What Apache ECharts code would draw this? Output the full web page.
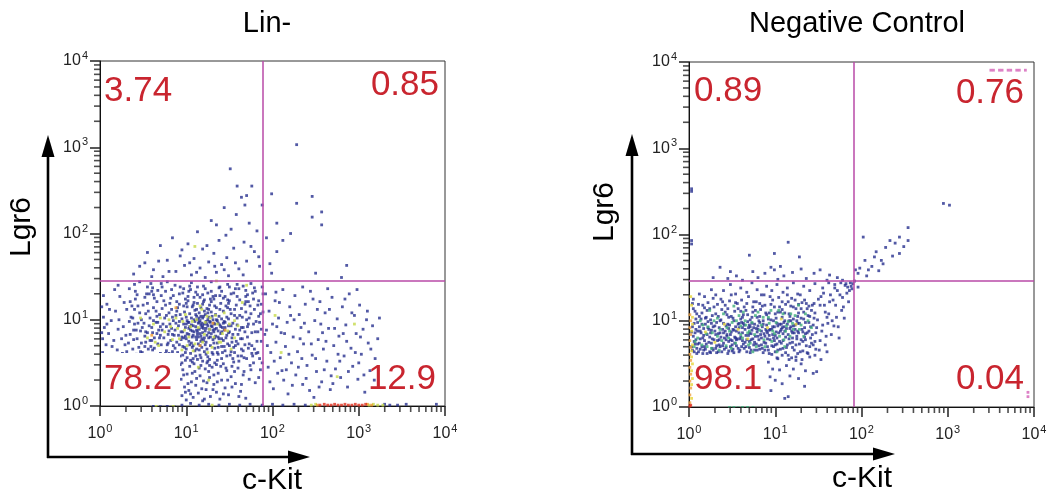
<!DOCTYPE html>
<html>
<head>
<meta charset="utf-8">
<script src="https://cdn.jsdelivr.net/npm/echarts@6/dist/echarts.min.js"></script>
<style>
html, body { margin: 0; padding: 0; background: #fff; }
#main { width: 1054px; height: 500px; }
</style>
</head>
<body>
<div id="main"></div>
<script>
// every value is in decades (log10 of the intensity)
var decades = [0, 1, 2, 3, 4];
var titles = ['Lin-', 'Negative Control'];
var gateLin = [1.89, 1.446]; // c-Kit, Lgr6
var gateNeg = [1.91, 1.458];
var pctLin = ['3.74', '0.85', '78.2', '12.9']; // UL, UR, LL, LR
var pctNeg = ['0.89', '0.76', '98.1', '0.04'];

// ---- Lin- ----
var linCore = [
  [0.72,0.88],[0.75,1.02],[0.78,0.71],[0.81,0.95],[0.83,1.12],[0.84,0.63],[0.86,0.82],[0.88,1.05],[0.89,0.74],[0.91,0.93],
  [0.92,1.18],[0.93,0.58],[0.94,0.86],[0.95,1.01],[0.96,0.69],[0.97,0.79],[0.98,1.09],[0.99,0.91],[1.00,0.66],[1.01,0.84],
  [1.02,1.22],[1.02,0.97],[1.03,0.75],[1.04,1.07],[1.05,0.88],[1.05,0.61],[1.06,0.94],[1.07,1.15],[1.07,0.80],[1.08,0.70],
  [1.09,1.00],[1.09,0.86],[1.10,1.11],[1.10,0.64],[1.11,0.92],[1.12,0.77],[1.12,1.04],[1.13,0.83],[1.13,1.19],[1.14,0.96],
  [1.14,0.72],[1.15,0.89],[1.15,1.08],[1.16,0.59],[1.16,0.99],[1.17,0.81],[1.17,1.14],[1.18,0.91],[1.18,0.68],[1.19,1.02],
  [1.19,0.85],[1.20,0.76],[1.20,1.21],[1.21,0.95],[1.21,0.63],[1.22,1.06],[1.22,0.87],[1.23,0.74],[1.23,0.98],[1.24,1.13],
  [1.24,0.82],[1.25,0.93],[1.25,0.57],[1.26,1.03],[1.26,0.79],[1.27,0.89],[1.27,1.17],[1.28,0.70],[1.28,0.97],[1.29,0.84],
  [1.29,1.09],[1.30,0.62],[1.30,0.92],[1.31,1.00],[1.31,0.77],[1.32,1.24],[1.32,0.86],[1.33,0.95],[1.33,0.67],[1.34,1.06],
  [1.34,0.81],[1.35,0.90],[1.35,1.14],[1.36,0.73],[1.36,0.99],[1.37,0.87],[1.37,0.60],[1.38,1.04],[1.38,0.78],[1.39,0.94],
  [1.40,1.19],[1.40,0.84],[1.41,0.69],[1.41,1.01],[1.42,0.91],[1.43,0.76],[1.43,1.10],[1.44,0.88],[1.45,0.64],[1.45,0.97],
  [1.46,1.16],[1.47,0.82],[1.47,1.03],[1.48,0.72],[1.49,0.93],[1.50,1.22],[1.50,0.86],[1.51,0.59],[1.52,1.07],[1.53,0.79],
  [1.54,0.96],[1.55,0.68],[1.56,1.12],[1.57,0.89],[1.58,0.75],[1.59,1.02],[1.60,0.83],
  [0.74,0.79],[0.77,0.92],[0.80,1.08],[0.82,0.76],[0.85,0.99],[0.87,0.67],[0.90,1.14],[0.94,0.77],[0.97,0.95],[1.00,1.03],
  [1.03,0.90],[1.06,0.73],[1.08,1.17],[1.11,0.80],[1.15,0.97],[1.18,0.78],[1.21,1.10],[1.24,0.66],[1.27,0.98],[1.31,0.88],
  [1.08,0.93],[1.12,0.88],[1.16,0.84],[1.19,0.93],[1.23,0.90],[1.26,0.85],[1.03,0.83],[0.99,0.81],[1.13,1.00],[1.17,1.04],
  [0.76,0.61],[0.79,0.83],[0.81,1.19],[0.85,0.70],[0.88,0.96],[0.90,0.62],[0.93,1.06],[0.95,0.80],[0.98,0.68],[1.00,0.95],
  [1.01,1.15],[1.04,0.71],[1.06,1.02],[1.08,0.82],[1.10,0.98],[1.12,0.66],[1.13,0.86],[1.15,1.02],[1.17,0.75],[1.19,1.18],
  [1.20,0.90],[1.22,0.71],[1.24,0.95],[1.26,1.12],[1.28,0.80],[1.30,1.04],[1.32,0.73],[1.33,0.89],[1.35,1.00],[1.37,0.68],
  [1.39,1.12],[1.41,0.86],[1.42,0.62],[1.44,0.98],[1.46,0.79],[1.48,1.14],[1.50,0.70],[1.52,0.93],[1.54,0.83],[1.56,0.62],
  [1.58,1.17],[1.60,0.72],[1.62,0.88],[1.64,1.13],[1.66,0.64],[1.68,0.86],[1.70,1.00],[1.72,0.67],[1.74,1.16],[1.76,0.85],
  [0.80,0.87],[0.84,1.03],[0.87,0.88],[0.92,0.71],[0.96,0.86],[1.00,0.78],[1.03,0.97],[1.07,0.87],[1.11,1.06],[1.14,0.80],
  [1.18,0.96],[1.21,0.79],[1.25,1.00],[1.29,0.93],[1.33,0.79],[1.37,0.96],[1.41,0.78],[1.45,0.91],[1.49,1.01],[1.53,0.74]
];
var linSpread = [
  [0.31,0.63],[0.35,1.21],[0.39,0.88],[0.43,1.29],[0.45,0.43],[0.49,0.91],[0.52,0.69],[0.55,1.19],[0.58,0.52],[0.60,1.33],
  [0.63,0.67],[0.65,1.10],[0.68,0.47],[0.70,0.82],[0.72,1.38],[0.75,0.53],[0.77,1.05],[0.79,0.73],[0.81,0.41],[0.83,0.90],
  [0.85,1.28],[0.87,0.58],[0.89,1.10],[0.91,0.82],[0.93,1.38],[0.95,0.50],[0.97,1.16],[0.99,0.62],[1.01,0.99],[1.03,1.33],
  [1.05,0.53],[1.07,0.68],[1.09,1.20],[1.11,0.58],[1.13,1.38],[1.15,0.65],[1.17,0.94],[1.19,0.52],[1.21,1.23],[1.23,0.60],
  [1.25,1.08],[1.27,0.54],[1.29,1.33],[1.31,0.60],[1.33,1.16],[1.35,0.48],[1.37,0.80],[1.39,1.38],[1.41,0.55],[1.43,0.96],
  [1.45,1.27],[1.47,0.58],[1.49,0.85],[1.51,1.12],[1.53,0.46],[1.55,1.31],[1.57,0.70],[1.59,0.94],[1.61,1.36],[1.63,0.78],
  [1.65,1.03],[1.67,0.56],[1.69,1.27],[1.71,0.92],[1.73,0.72],[1.75,1.07],[1.77,1.31],[1.79,0.66],[1.81,0.98],[1.83,1.17],
  [1.85,0.55],[1.87,0.89],[1.89,1.09],[0.47,0.63],[0.53,0.86],[0.57,1.30],[0.62,0.57],[0.67,0.97],[0.71,0.71],[0.76,1.17],
  [0.80,0.61],[0.84,0.83],[0.88,0.49],[0.92,0.98],[0.96,0.59],[1.00,1.19],[1.04,0.92],[1.08,0.55],[1.12,1.12],[1.16,0.70],
  [1.20,1.04],[1.24,0.50],[1.28,1.24],[1.32,0.96],[1.36,0.62],[1.40,0.92],[1.44,0.69],[1.48,1.23],[1.52,0.63],[1.56,1.05],
  [1.60,0.58],[1.64,0.91],[1.68,0.71],[1.72,1.21],[1.76,0.61],[1.80,0.86],[1.84,1.04],[0.36,0.57],[0.40,1.12],[0.44,0.96]
];
var linHalo = [
  [0.27,0.92],[0.29,0.71],[0.31,1.12],[0.33,0.55],[0.35,0.83],[0.36,1.03],[0.38,0.66],[0.40,0.95],[0.41,1.24],[0.43,0.78],
  [0.44,0.50],[0.46,1.08],[0.47,0.87],[0.49,0.62],[0.50,1.17],[0.51,0.96],[0.53,0.74],[0.54,1.30],[0.55,0.85],[0.57,0.58],
  [0.58,1.02],[0.59,0.69],[0.60,0.91],[0.62,1.14],[0.63,0.79],[0.64,0.53],[0.65,0.97],[0.66,1.21],[0.67,0.72],[0.68,0.88],
  [0.69,1.06],[0.70,0.61],[0.52,0.81],[0.45,0.68],[0.39,0.77],[0.56,1.10],[0.61,0.65],[0.48,1.00],[0.34,0.98],[0.42,0.60],
  [0.66,0.84],[0.58,0.76],[0.30,0.82],[0.37,1.16],[0.62,0.99],
  [0.42,0.88],[0.48,0.73],[0.53,1.07],[0.57,0.93],[0.60,0.76],[0.63,1.25],[0.66,1.04],[0.69,0.79],[0.72,1.13],[0.73,0.95],
  [0.50,0.57],[0.56,0.66],[0.61,0.85],[0.65,0.59],[0.70,0.92],[0.74,1.22],[0.77,0.64],[0.44,1.16],[0.38,1.02],[0.33,0.73],
  [0.28,1.20],[0.25,0.78],[0.22,1.00],[0.19,0.55],[0.17,1.35],[0.14,0.69],[0.11,1.12],[0.08,0.95],[0.06,0.58],[0.04,1.28],
  [0.02,0.85],[0.02,1.15],[0.32,0.45],[0.26,0.61],[0.21,1.40],[0.34,1.36],
  [0.03,0.62],[0.03,0.78],[0.04,1.03],[0.05,0.50],[0.05,0.91],[0.07,0.71],[0.08,1.18],[0.10,0.84],[0.12,0.58],[0.13,0.99],
  [0.15,0.44],[0.16,0.76],[0.18,1.10],[0.20,0.65],[0.21,0.89],[0.23,1.27],[0.24,0.53],[0.09,0.40],
  [0.36,0.47],[0.41,1.33],[0.47,0.55],[0.52,1.26],[0.57,0.41],[0.61,1.37],[0.66,0.49],[0.71,1.28],[0.73,0.57],[0.79,0.44],
  [0.83,1.35],[0.86,0.52],[0.91,0.39],[0.96,1.31],[1.01,0.56],[1.04,1.39],[1.09,0.49],[1.13,1.29],[1.17,0.56],[1.22,1.36],
  [1.27,0.47],[1.31,1.27],[1.36,0.53],[1.41,1.33],[1.46,0.44],[1.50,1.38],[1.55,0.51],[1.59,1.27],[1.64,0.58],[1.69,1.34],
  [1.74,0.47],[1.78,1.24],[1.83,0.62],[1.87,1.18],[1.91,0.83],
  [0.46,1.44],[0.59,1.42],[0.67,1.34],[0.78,1.44],[0.89,1.21],[0.99,1.24],[1.09,1.26],[1.19,1.29],[1.29,1.21],[1.39,1.28],
  [1.49,1.19],[1.59,1.41],[1.69,1.21],[1.79,1.37],[1.89,1.30],
  [0.55,1.38],[0.62,1.29],[0.71,1.42],[0.76,1.33],[0.82,1.25],[0.87,1.40],[0.92,1.30],[0.97,1.36],[1.02,1.27],[1.06,1.43],
  [1.11,1.32],[1.16,1.26],[1.20,1.39],[1.25,1.31],[1.29,1.44],[1.34,1.28],[1.38,1.37],[1.43,1.25],[1.48,1.41],[1.52,1.30],
  [1.57,1.36],[1.62,1.23],[1.66,1.39],[1.71,1.29],[1.75,1.42],[1.80,1.33],[1.84,1.22],[1.88,1.38],[0.40,1.41],[1.05,1.35],
  [1.62,1.05],[1.64,0.66],[1.66,0.91],[1.68,1.18],[1.70,0.55],[1.71,0.80],[1.73,1.02],[1.75,0.42],[1.76,0.70],[1.78,0.95],
  [1.79,1.12],[1.81,0.61],[1.83,0.86],[1.84,0.33],[1.86,1.07],[1.87,0.75],[1.88,0.50],[1.65,0.78],[1.72,0.95],[1.80,0.27],
  [1.61,0.52],[1.69,1.09],[1.77,0.58],[1.85,0.97],[1.67,0.40],[1.82,0.75],[1.86,0.42],[1.78,0.50],[1.73,0.31],[1.64,0.25]
];
var linStem = [
  [0.93,0.48],[0.94,0.31],[0.95,0.12],[0.96,0.42],[0.98,0.22],[0.99,0.53],[1.00,0.07],[1.01,0.37],[1.03,0.18],[1.04,0.46],
  [1.06,0.28],[1.07,0.51],[1.08,0.10],[1.10,0.40],[1.11,0.24],[1.13,0.54],[1.14,0.15],[1.16,0.35],[1.17,0.47],[1.19,0.06],
  [1.20,0.29],[1.22,0.43],[1.23,0.19],[1.25,0.52],[1.27,0.33],[1.28,0.11],[1.30,0.45],[1.32,0.25],[1.33,0.50],[1.35,0.16],
  [1.37,0.38],[1.39,0.08],[1.41,0.30],[1.43,0.49],[1.45,0.21],[1.47,0.41],[1.49,0.13],[1.52,0.34],[1.54,0.55],[1.57,0.26],
  [1.60,0.44],[1.63,0.17],[1.66,0.36],[1.69,0.09],[1.05,0.14],[1.12,0.32],[1.18,0.20],[1.26,0.40],[0.97,0.36],[1.36,0.28],
  [1.56,0.40],[1.48,0.30],[1.40,0.46],[1.32,0.36],[1.24,0.27],[1.15,0.44],[1.07,0.38],[0.99,0.16],[1.21,0.08],[1.43,0.14],
  [1.61,0.11],[1.02,0.26],[1.31,0.19],[1.53,0.22]
];
var linUpperLeft = [
  [0.39,1.53],[0.46,1.62],[0.55,1.78],[0.62,1.58],[0.70,1.86],[0.73,1.50],[0.78,1.69],[0.84,1.95],[0.88,1.56],[0.93,1.74],
  [0.98,1.63],[1.02,1.88],[1.06,1.52],[1.09,1.71],[1.13,2.02],[1.16,1.60],[1.19,1.82],[1.22,1.49],[1.26,1.67],[1.29,2.15],
  [1.32,1.77],[1.35,1.55],[1.38,1.92],[1.41,1.64],[1.44,2.30],[1.47,1.72],[1.49,1.51],[1.52,2.05],[1.55,1.83],[1.58,2.22],
  [1.61,1.59],[1.64,2.42],[1.67,1.90],[1.70,1.68],[1.73,2.12],[1.76,2.55],[1.79,1.79],[1.82,2.03],[1.85,1.62],[1.88,2.33],
  [1.51,2.75],[1.59,2.55],[1.70,2.44],[1.68,2.33],[1.35,2.10],[0.68,1.68],
  [0.52,1.66],[0.60,1.50],[0.80,1.56],[0.95,1.81],[1.04,1.66],[1.12,1.55],[1.24,1.86],[1.33,1.62],[1.46,1.98],[1.57,1.66],
  [1.66,1.52],[1.75,1.85],[1.84,1.73],[1.44,1.58]
];
var linUpperRight = [
  [1.99,2.46],[2.28,2.35],[2.46,2.43],[2.46,2.19],[2.57,2.25],[2.57,2.10],[2.05,2.12],[2.28,3.03],[2.05,1.79],[1.97,1.65],
  [2.21,2.00],[2.86,1.63],[2.50,1.54],[2.80,1.49],[1.99,1.54],[2.12,1.92],[1.93,1.95]
];
var linLowerRight = [
  [1.92,1.30],[1.93,0.88],[1.95,0.45],[1.96,1.10],[1.98,0.62],[2.00,0.95],[2.01,0.20],[2.03,1.22],[2.04,0.74],[2.06,0.38],
  [2.07,1.02],[2.09,0.56],[2.10,0.85],[2.12,1.35],[2.13,0.30],[2.15,0.69],[2.17,0.97],[2.18,0.14],[2.20,1.15],[2.22,0.50],
  [2.24,0.80],[2.26,1.28],[2.27,0.36],[2.29,0.63],[2.31,1.06],[2.33,0.91],[2.35,0.25],[2.36,0.72],[2.38,1.18],[2.40,0.47],
  [2.42,0.86],[2.44,1.33],[2.46,0.59],[2.48,0.10],[2.49,0.99],[2.51,0.40],[2.53,0.77],[2.55,1.21],[2.57,0.28],[2.59,0.66],
  [2.61,1.08],[2.63,0.52],[2.65,0.90],[2.67,0.19],[2.69,1.26],[2.71,0.70],[2.73,0.43],[2.75,1.01],[2.77,0.81],[2.79,0.33],
  [2.81,1.15],[2.83,0.58],[2.85,0.94],[2.87,0.22],[2.89,1.30],[2.91,0.67],[2.93,0.46],[2.95,1.05],[2.97,0.84],[2.99,0.31],
  [3.01,1.17],[3.03,0.60],[3.05,0.89],[3.07,0.16],[3.09,1.00],[3.11,0.73],[3.13,0.41],[3.16,0.93],[3.19,0.55],[3.22,0.78],
  [2.16,0.42],[2.34,0.55],[2.52,1.12],[2.68,0.35],[2.86,0.75],[3.00,0.50],[2.21,1.05],[2.58,0.85],[2.76,0.60],[2.43,0.18],
  [1.94,0.70],[1.97,0.28],[2.02,0.52],[2.05,0.92],[2.08,1.20],[2.11,0.41],[2.14,0.84],[2.19,0.60],[2.23,0.24],[2.25,1.00],
  [2.30,0.45],[2.32,0.78],[2.37,0.96],[2.39,0.32],[2.45,0.72],[2.47,1.24],[2.50,0.55],[2.56,0.95],[2.60,0.42],[2.62,0.75],
  [2.66,1.12],[2.70,0.26],[2.72,0.90],[2.78,0.52],[2.82,0.84],[2.88,0.40],[2.92,1.08],[2.96,0.62],[3.02,0.80],[3.06,0.36],
  [3.10,1.10],[3.14,0.66],[3.18,0.30],[2.04,1.32],[2.35,1.38],[2.64,1.36],[2.98,1.35],[3.24,1.02],[2.84,1.24],[2.54,0.22]
];
var linFloor = [
  [0.62,0.01],[0.70,0.02],[0.78,0.01],[0.86,0.02],[0.95,0.01],[1.05,0.03],[1.15,0.01],[1.26,0.02],[1.38,0.01],[1.50,0.02],
  [1.62,0.01],[1.74,0.02],[1.88,0.01],[2.00,0.02],[2.12,0.01],[2.25,0.02],[2.38,0.01],[3.30,0.02],[3.36,0.01],[3.45,0.01],
  [3.55,0.02],[3.90,0.02]
];
var linGreen = [
  [0.55,0.79],[0.62,0.95],[0.68,0.70],[0.75,0.86],[0.80,1.00],[0.84,0.77],[0.90,0.90],[0.95,0.65],[0.99,1.06],[1.03,0.80],
  [1.07,0.98],[1.10,0.72],[1.14,0.91],[1.18,1.12],[1.21,0.83],[1.25,0.62],[1.28,1.02],[1.32,0.80],[1.36,0.95],[1.40,0.74],
  [1.44,1.08],[1.48,0.87],[1.52,0.66],[1.56,0.99],[1.60,0.93],[1.14,0.45],[1.26,0.30],[1.65,1.20],[0.47,1.02],[1.70,1.40],
  [1.35,1.45],[1.10,1.85],[2.03,1.05],[2.75,0.34],[2.95,0.95],[2.10,0.62],[0.96,0.98],[1.22,0.97],
  [0.82,0.92],[0.92,0.78],[1.05,0.92],[1.12,1.00],[1.19,0.74],[1.27,0.89],[1.34,1.05],[1.42,0.84],[1.50,0.95],[0.70,1.02],
  [0.64,0.74],[1.01,0.70],[1.16,1.16],[1.30,0.68],[1.56,0.79],[0.98,0.88],[1.08,0.64],[1.24,1.04],[1.38,0.74],[0.88,1.02],
  [2.45,0.01],[2.50,0.02],[3.12,0.01],[3.17,0.02],[3.22,0.01],[3.28,0.01],[1.30,0.01],[0.85,0.01],[0.65,0.01]
];
var linOrange = [[0.60,0.82],[1.16,0.70],[1.45,0.88],[0.88,1.14],[1.31,0.96],[2.52,0.01],[3.10,0.02],[3.15,0.01]];
var linRed = [
  [2.55,0.01],[2.60,0.02],[2.64,0.01],[2.68,0.01],[2.72,0.02],[2.76,0.01],[2.80,0.01],[2.84,0.02],[2.88,0.01],[2.92,0.01],
  [2.96,0.02],[3.00,0.01],[3.04,0.01],[3.08,0.02]
];

// ---- Negative Control ----
var negCore = [
  [0.04,0.66],[0.05,0.82],[0.06,0.97],[0.07,0.73],[0.09,1.08],[0.10,0.88],[0.11,0.64],[0.13,0.79],[0.14,1.02],[0.15,0.70],
  [0.17,0.91],[0.18,1.15],[0.19,0.67],[0.21,0.84],[0.22,0.99],[0.23,0.75],[0.25,0.63],[0.26,0.89],[0.27,1.06],[0.29,0.78],
  [0.30,0.94],[0.31,0.68],[0.33,1.19],[0.34,0.85],[0.35,0.72],[0.37,1.01],[0.38,0.64],[0.39,0.90],[0.41,0.80],[0.42,1.10],
  [0.43,0.69],[0.45,0.96],[0.46,0.76],[0.47,1.23],[0.49,0.87],[0.50,0.65],[0.51,1.03],[0.53,0.81],[0.54,0.93],[0.55,0.71],
  [0.57,1.14],[0.58,0.86],[0.59,0.66],[0.61,0.98],[0.62,0.77],[0.63,1.07],[0.65,0.90],[0.66,0.70],[0.67,1.20],[0.69,0.83],
  [0.70,0.95],[0.71,0.63],[0.73,1.04],[0.74,0.79],[0.75,0.92],[0.77,1.12],[0.78,0.73],[0.79,0.87],[0.81,1.00],[0.82,0.67],
  [0.83,0.84],[0.85,1.17],[0.86,0.96],[0.87,0.75],[0.89,1.09],[0.90,0.88],
  [0.08,0.78],[0.12,0.93],[0.16,0.62],[0.20,1.04],[0.24,0.81],[0.28,0.66],[0.32,0.98],[0.36,0.86],[0.40,0.74],[0.44,1.07],
  [0.48,0.70],[0.52,0.89],[0.56,0.79],[0.60,1.11],[0.64,0.68],[0.68,0.99],[0.72,0.85],[0.76,0.66],[0.80,0.94],[0.84,0.72],
  [0.88,0.82],[0.14,0.86],[0.26,0.74],[0.38,1.13],[0.50,0.77],[0.62,0.92],[0.74,1.16],[0.86,0.63],[0.18,0.77],[0.32,0.71],
  [0.44,0.84],[0.58,0.97],[0.70,0.76],[0.82,1.05],[0.22,1.21],[0.46,0.91],
  [0.03,0.70],[0.04,0.93],[0.05,1.14],[0.06,0.64],[0.07,0.86],[0.08,1.02],[0.09,0.68],[0.10,0.98],[0.11,1.19],[0.12,0.74],
  [0.13,0.88],[0.15,1.09],[0.16,0.80],[0.17,0.66],[0.19,0.96],[0.20,0.73],[0.21,1.12],[0.23,0.90],[0.24,0.64],[0.25,1.01],
  [0.27,0.79],[0.28,0.93],[0.29,1.16],[0.31,0.84],[0.32,0.63],[0.34,1.05],[0.35,0.92],[0.36,0.70],[0.37,0.81],[0.39,1.22],
  [0.40,0.97],[0.41,0.67],[0.42,0.88],[0.43,0.78],[0.45,1.14],[0.46,0.65],[0.47,0.95],[0.48,0.84],[0.49,1.05],[0.50,0.72],
  [0.51,0.90],[0.52,0.63],[0.53,1.11],[0.54,0.80],[0.55,0.88],[0.56,1.20],[0.57,0.68],[0.58,0.92],[0.59,0.79],[0.60,1.02],
  [0.61,0.70],[0.62,0.86],[0.63,0.97],[0.64,1.16],[0.65,0.75],[0.66,0.83],[0.67,0.64],[0.68,1.07],[0.69,0.92],[0.70,0.69],
  [0.71,1.01],[0.72,0.78],[0.73,0.89],[0.74,1.10],[0.75,0.72],[0.76,0.96],[0.77,0.82],[0.78,1.22],[0.79,0.66],[0.80,0.90],
  [0.81,0.78],[0.82,0.98],[0.83,1.13],[0.84,0.88],[0.85,0.68],[0.86,1.00],[0.87,0.85],[0.88,1.18],[0.89,0.74],[0.90,0.95],
  [0.05,1.25],[0.12,1.31],[0.18,1.28],[0.26,1.36],[0.31,1.30],[0.40,1.35],[0.48,1.42],[0.54,1.31],[0.60,1.38],[0.67,1.33],
  [0.73,1.44],[0.79,1.36],[0.84,1.30]
];
var negFill = [
  [0.03,0.87],[0.04,1.20],[0.06,0.76],[0.07,1.11],[0.09,0.62],[0.10,0.73],[0.12,1.05],[0.13,0.67],[0.15,0.96],[0.16,1.18],
  [0.18,0.70],[0.19,1.03],[0.21,0.62],[0.22,0.92],[0.24,1.14],[0.25,0.86],[0.27,0.68],[0.28,1.26],[0.30,0.88],[0.31,1.08],
  [0.33,0.77],[0.34,0.64],[0.36,1.00],[0.37,1.25],[0.39,0.71],[0.40,0.86],[0.42,1.18],[0.43,0.94],[0.45,0.62],[0.46,1.04],
  [0.48,0.78],[0.49,1.30],[0.51,0.67],[0.52,1.00],[0.54,1.21],[0.55,0.78],[0.57,0.96],[0.58,0.64],[0.60,0.81],[0.61,1.24],
  [0.63,0.73],[0.64,0.95],[0.66,1.12],[0.67,0.78],[0.69,1.28],[0.70,0.86],[0.72,0.66],[0.73,0.97],[0.75,1.22],[0.76,0.75],
  [0.78,0.91],[0.79,1.04],[0.81,0.71],[0.82,1.20],[0.84,0.80],[0.85,0.93],[0.87,1.30],[0.88,0.66],[0.90,1.07],[0.91,0.79],
  [0.93,0.89],[0.94,1.28],[0.96,0.71],[0.97,0.84],[0.99,1.16],[1.00,0.64],[1.02,0.97],[1.03,1.10],[1.05,0.76],[1.06,0.88],
  [1.08,1.22],[1.09,0.68],[1.11,1.09],[1.12,0.81],[1.14,1.30],[1.15,0.60],[1.17,0.91],[1.18,1.17],[1.20,0.75],[1.21,0.94],
  [1.23,1.24],[1.24,0.72],[1.26,0.88],[1.27,1.19],[1.29,0.64],[1.30,1.03],[1.32,0.76],[1.34,1.24],[1.35,0.85],[1.37,0.63],
  [1.39,1.17],[1.41,0.93],[1.42,0.74],[1.45,1.20],[1.47,0.67],[0.08,0.90],[0.17,0.83],[0.26,0.97],[0.35,0.78],[0.44,0.82],
  [0.53,0.74],[0.62,1.04],[0.71,0.93],[0.80,0.82],[0.89,0.90],[0.98,0.80],[1.07,0.96],[1.16,1.00],[1.25,1.00],[1.34,0.81]
];
var negRight = [
  [0.91,0.70],[0.92,1.02],[0.93,0.83],[0.95,1.19],[0.96,0.61],[0.97,0.93],[0.99,0.77],[1.00,1.08],[1.01,0.87],[1.03,0.66],
  [1.04,1.27],[1.05,0.96],[1.07,0.74],[1.08,1.13],[1.09,0.85],[1.11,1.00],[1.12,0.63],[1.13,0.91],[1.15,1.22],[1.16,0.79],
  [1.17,1.05],[1.19,0.88],[1.20,0.69],[1.21,1.16],[1.23,0.95],[1.24,0.58],[1.25,0.82],[1.27,1.09],[1.28,0.73],[1.29,1.30],
  [1.31,0.90],[1.32,0.65],[1.33,1.02],[1.35,0.78],[1.36,1.20],[1.37,0.86],[1.39,0.98],[1.40,0.70],[1.42,1.12],[1.43,0.84],
  [1.45,1.03],[1.46,0.76],[1.48,0.92],[1.50,1.25],[0.94,0.90],[0.98,1.00],[1.02,0.80],[1.06,1.10],[1.10,0.93],[1.14,0.72],
  [1.18,1.00],[1.22,0.86],[1.26,0.97],[1.30,1.14],[1.34,0.92],[1.38,1.06],[1.44,0.95],[1.00,0.72],[1.20,0.80],[1.08,0.92],
  [0.91,0.86],[0.92,0.66],[0.93,1.09],[0.94,0.78],[0.95,1.01],[0.96,0.90],[0.97,1.24],[0.98,0.70],[0.99,0.93],[1.00,0.83],
  [1.01,1.03],[1.02,0.73],[1.03,0.94],[1.04,0.86],[1.05,1.16],[1.06,0.67],[1.07,0.90],[1.08,1.04],[1.09,0.77],[1.10,0.98],
  [1.11,0.88],[1.12,1.19],[1.13,0.69],[1.14,0.96],[1.15,0.84],[1.16,1.08],[1.17,0.74],[1.18,0.93],[1.19,1.26],[1.20,0.86],
  [1.21,1.02],[1.22,0.66],[1.23,0.90],[1.24,1.14],[1.25,0.79],[1.26,1.05],[1.27,0.86],[1.28,0.97],[1.30,0.78],[1.31,1.21],
  [1.32,0.87],[1.33,1.10],[1.35,0.98],[1.36,0.71],[1.37,1.14],[1.39,0.88],[1.40,1.05],[1.41,0.80],[1.43,1.18],[1.44,0.72],
  [1.46,1.09],[1.47,0.86],[1.49,1.01],[1.51,0.66],[1.53,1.28],[1.55,0.95],[1.57,1.18],[1.59,0.82],[1.62,1.08],[1.64,1.30],
  [1.68,0.94],[1.70,1.18],[1.72,1.35],[1.74,0.80],[1.78,1.27],[1.80,1.03],[1.83,1.32],[1.85,1.22],[1.87,1.44],[1.89,1.37],
  [0.90,1.40],[0.96,1.35],[1.02,1.42],[1.09,1.33],[1.14,1.38],[1.21,1.44],[1.26,1.31],[1.33,1.40],[1.40,1.35],[1.46,1.43],
  [1.55,1.38],[1.62,1.44],[1.69,1.42],[1.02,0.57],[1.08,0.60],[1.16,0.55],[1.26,0.62],[1.38,0.62],[1.46,0.60],[0.93,0.62],
  [1.31,0.55],[1.53,0.55],[1.60,0.64],
  [1.52,1.18],[1.54,0.88],[1.56,1.32],[1.58,0.72],[1.60,1.04],[1.61,0.97],[1.63,1.22],[1.65,0.84],[1.67,1.24],[1.69,1.38],
  [1.71,1.04],[1.73,0.93],[1.75,1.30],[1.77,1.12],[1.79,1.16],[1.81,1.41],[1.82,1.43],[1.84,1.39],[1.86,1.35],[1.88,1.40],
  [1.52,0.77],[1.58,1.10],[1.66,1.00],[1.76,1.44],[1.90,1.43]
];
var negBelow = [
  [0.92,0.52],[0.95,0.19],[0.97,0.44],[1.00,0.31],[1.03,0.56],[1.05,0.43],[1.08,0.27],[1.11,0.10],[1.13,0.48],[1.15,0.12],
  [1.17,0.36],[1.19,0.57],[1.21,0.44],[1.24,0.54],[1.27,0.33],[1.30,0.50],[1.35,0.42],[1.40,0.58],[1.44,0.39],[1.48,0.41],
  [1.34,0.24],[0.94,0.35]
];
var negUpperLeft = [
  [0.28,1.50],[0.36,1.62],[0.45,1.49],[0.48,1.57],[0.55,1.52],[0.62,1.47],[0.70,1.76],[0.74,1.57],[0.80,1.50],[0.88,1.55],
  [0.95,1.62],[0.99,1.78],[0.99,1.59],[1.03,1.48],[1.06,1.63],[1.10,1.52],[1.15,1.91],[1.20,1.56],[1.28,1.74],[1.30,1.60],
  [1.36,1.49],[1.45,1.55],[1.52,1.59],[1.60,1.47],[1.63,1.53],[1.72,1.50],[1.78,1.47],[0.03,2.53],[0.03,2.50],[0.03,1.93],
  [0.03,1.89]
];
var negUpperRight = [
  [1.93,1.59],[1.96,1.55],[1.98,1.61],[2.02,1.97],[2.04,1.70],[2.06,1.52],[2.08,1.59],[2.12,1.63],[2.15,1.74],[2.17,1.80],
  [2.20,1.58],[2.23,1.70],[2.25,1.66],[2.28,1.85],[2.33,1.93],[2.36,1.75],[2.39,1.90],[2.44,1.78],[2.44,1.97],[2.49,1.86],
  [2.54,1.93],[2.54,2.08],[2.95,2.36],[3.02,2.34],[1.96,1.39],[1.92,1.46]
];
var negGreen = [
  [0.10,0.80],[0.16,0.95],[0.21,0.70],[0.27,0.86],[0.33,1.03],[0.38,0.77],[0.44,0.92],[0.49,0.68],[0.55,1.00],[0.60,0.84],
  [0.66,0.95],[0.71,0.74],[0.77,1.06],[0.82,0.89],[0.88,0.70],[0.93,0.97],[0.99,0.85],[1.04,1.12],[1.10,0.78],[1.15,0.99],
  [1.21,0.90],[1.27,1.18],[1.33,0.82],[1.38,1.00],[0.06,0.70],[0.24,1.12],[0.52,1.17],[0.74,0.64],[1.02,0.64],[1.18,1.08],
  [0.35,0.66],[0.63,1.10],[0.86,1.04],[1.30,0.95],[0.46,0.80],[0.70,0.88],[0.96,0.76],[1.12,0.88],
  [0.07,0.76],[0.13,1.00],[0.20,0.85],[0.26,0.68],[0.29,1.00],[0.36,0.90],[0.40,1.08],[0.43,0.71],[0.50,0.98],[0.54,0.74],
  [0.58,1.06],[0.62,0.80],[0.65,1.00],[0.69,0.72],[0.73,0.98],[0.76,0.84],[0.80,1.10],[0.84,0.95],[0.87,0.78],[0.92,1.04],
  [0.97,0.88],[1.01,0.98],[1.05,0.82],[1.09,1.08],[1.13,0.94],[1.17,0.82],[1.23,1.06],[1.28,0.90],[1.35,1.08],[1.42,0.92],
  [0.15,0.72],[0.33,0.82],[0.47,0.88],[0.60,0.94],[0.78,0.70],[0.95,1.12],[1.11,0.70],[1.20,0.97],[0.22,0.93],[0.68,0.86],
  [0.47,0.01],[0.52,0.01],[0.57,0.02],[0.62,0.01],[0.68,0.01],[0.74,0.02]
];
var negYellow = [
  [0.19,0.87],[0.41,0.96],[0.68,0.79],[0.91,0.92],[1.07,1.02],[0.30,0.75],[0.57,0.90],[1.24,0.96],
  [0.03,0.10],[0.03,0.26],[0.03,0.42],[0.03,0.58],[0.04,0.72],[0.03,0.88],[0.04,1.04],[0.03,1.18],[0.02,1.28],[0.04,0.33],
  [0.04,0.50],[0.03,0.65],[0.04,0.96]
];
var negOrange = [
  [0.01,0.05],[0.01,0.14],[0.02,0.22],[0.01,0.30],[0.02,0.38],[0.01,0.46],[0.02,0.54],[0.01,0.61],[0.02,0.69],[0.01,0.77],
  [0.02,0.84],[0.01,0.92],[0.02,1.00],[0.01,1.07]
];
var negRed = [[0.01,0.01],[0.02,0.02]];
var negPink = [
  [3.50,3.905],[3.53,3.905],[3.60,3.905],[3.63,3.905],[3.70,3.905],[3.73,3.905],[3.80,3.905],[3.83,3.905],[3.90,3.905],
  [3.93,0.12],[3.93,0.17]
];

var chart = echarts.init(document.getElementById('main'));

var FONT = '"Liberation Sans", Arial, Helvetica, sans-serif';
var RED = '#c9252f';
var GATE = '#b94aa7';
var BLUE = '#27308f';

// minor decade ticks at 2..9 x 10^n
var minorTicks = [];
for (var n = 0; n < decades.length - 1; n++) {
  for (var k = 2; k <= 9; k++) minorTicks.push(decades[n] + Math.log10(k));
}

function powLabel(v) {
  return '{b|10}{s|' + v + '}';
}
var labelRich = {
  b: { fontSize: 16, color: '#222', fontFamily: FONT },
  s: { fontSize: 11, color: '#222', fontFamily: FONT, padding: [0, 0, 10, 1] }
};

function axisCfg(dim, g) {
  return {
    gridIndex: g, type: 'value', min: 0, max: 4, interval: 1,
    axisLine: { show: true, onZero: false, lineStyle: { color: '#111', width: 1 } },
    axisTick: { show: true, inside: false, length: 10, lineStyle: { color: '#222', width: 1.5 } },
    axisLabel: { margin: dim === 'x' ? 17 : 12, formatter: powLabel, rich: labelRich },
    splitLine: { show: false }
  };
}

function dots(data, color, axis, gate) {
  var s = {
    type: 'scatter', data: data,
    xAxisIndex: axis, yAxisIndex: axis,
    symbol: 'rect', symbolSize: 2.8,
    itemStyle: { color: color },
    silent: true
  };
  if (gate) {
    s.markLine = {
      silent: true, symbol: 'none', animation: false,
      label: { show: false },
      lineStyle: { color: GATE, width: 1.5, type: 'solid' },
      data: [{ xAxis: gate[0] }, { yAxis: gate[1] }]
    };
  }
  return s;
}

// minor log ticks hung off the axis lines, placed by the axis scale
function tickMarks(axis, dim, values, len) {
  return {
    type: 'scatter', xAxisIndex: axis, yAxisIndex: axis, clip: false, silent: true, z: 5,
    data: values.map(function (v) { return dim === 'x' ? [v, 0] : [0, v]; }),
    symbol: 'rect',
    symbolSize: dim === 'x' ? [1.6, len] : [len, 1.6],
    symbolOffset: dim === 'x' ? [0, len / 2] : [-len / 2, 0],
    itemStyle: { color: '#222' }
  };
}

function txt(x, y, s, size, align, color, extra) {
  var t = {
    type: 'text', x: x, y: y, z: 60,
    style: { text: s, font: size + 'px ' + FONT, fill: color || '#000', align: align || 'left', verticalAlign: 'middle' }
  };
  if (extra) for (var key in extra) t[key] = extra[key];
  return t;
}
function arrowV(x, y0, yTip) {
  return [
    { type: 'line', z: 60, shape: { x1: x, y1: y0, x2: x, y2: yTip + 18 }, style: { stroke: '#000', lineWidth: 2.6 } },
    { type: 'polygon', z: 60, shape: { points: [[x, yTip], [x - 6.5, yTip + 22], [x + 6.5, yTip + 22]] }, style: { fill: '#000' } }
  ];
}
function arrowH(y, x0, xTip) {
  return [
    { type: 'line', z: 60, shape: { x1: x0, y1: y, x2: xTip - 18, y2: y }, style: { stroke: '#000', lineWidth: 2.6 } },
    { type: 'polygon', z: 60, shape: { points: [[xTip, y], [xTip - 22, y - 6.5], [xTip - 22, y + 6.5]] }, style: { fill: '#000' } }
  ];
}

var graphics = [
  txt(267, 24, titles[0], 29, 'center'),
  txt(857, 24, titles[1], 29, 'center'),
  txt(22, 227, 'Lgr6', 30, 'center', '#000', { rotation: Math.PI / 2 }),
  txt(605, 212, 'Lgr6', 30, 'center', '#000', { rotation: Math.PI / 2 }),
  txt(272, 481, 'c-Kit', 30, 'center'),
  txt(862, 479, 'c-Kit', 30, 'center'),
  // white boxes behind the lower-left percentages
  { type: 'rect', z: 55, shape: { x: 101, y: 353, width: 79, height: 52 }, style: { fill: '#fff' } },
  { type: 'rect', z: 55, shape: { x: 694, y: 355, width: 73, height: 51 }, style: { fill: '#fff' } },
  txt(104, 91, pctLin[0], 35, 'left', RED),
  txt(439, 85, pctLin[1], 35, 'right', RED),
  txt(104, 379, pctLin[2], 35, 'left', RED),
  txt(436, 379, pctLin[3], 35, 'right', RED),
  txt(694, 91, pctNeg[0], 35, 'left', RED),
  txt(1024, 93, pctNeg[1], 35, 'right', RED),
  txt(694, 379, pctNeg[2], 35, 'left', RED),
  txt(1024, 379, pctNeg[3], 35, 'right', RED)
].concat(arrowV(48, 458, 135), arrowH(457, 47, 310), arrowV(632, 455, 134), arrowH(454, 631, 895));

chart.setOption({
  animation: false,
  backgroundColor: '#fff',
  grid: [
    { left: 100, top: 61, width: 345, height: 345, show: true, borderColor: '#333', borderWidth: 1 },
    { left: 689, top: 62, width: 345, height: 345, show: true, borderColor: '#333', borderWidth: 1 }
  ],
  xAxis: [axisCfg('x', 0), axisCfg('x', 1)],
  yAxis: [axisCfg('y', 0), axisCfg('y', 1)],
  series: [
    dots(linCore, BLUE, 0, gateLin),
    dots(linSpread, BLUE, 0),
    dots(linHalo, BLUE, 0),
    dots(linStem, BLUE, 0),
    dots(linUpperLeft, BLUE, 0),
    dots(linUpperRight, BLUE, 0),
    dots(linLowerRight, BLUE, 0),
    dots(linFloor, BLUE, 0),
    dots(linGreen, '#c5d94a', 0),
    dots(linOrange, '#f09a2a', 0),
    dots(linRed, '#e0301e', 0),
    dots(negCore, BLUE, 1, gateNeg),
    dots(negFill, BLUE, 1),
    dots(negRight, BLUE, 1),
    dots(negBelow, BLUE, 1),
    dots(negUpperLeft, BLUE, 1),
    dots(negUpperRight, BLUE, 1),
    dots(negGreen, '#3fae7a', 1),
    dots(negYellow, '#e6d63a', 1),
    dots(negOrange, '#f0a040', 1),
    dots(negRed, '#e0301e', 1),
    dots(negPink, '#d561b8', 1),
    tickMarks(0, 'x', minorTicks, 6), tickMarks(0, 'y', minorTicks, 6),
    tickMarks(1, 'x', minorTicks, 6), tickMarks(1, 'y', minorTicks, 6)
  ],
  graphic: graphics
});
</script>
</body>
</html>
